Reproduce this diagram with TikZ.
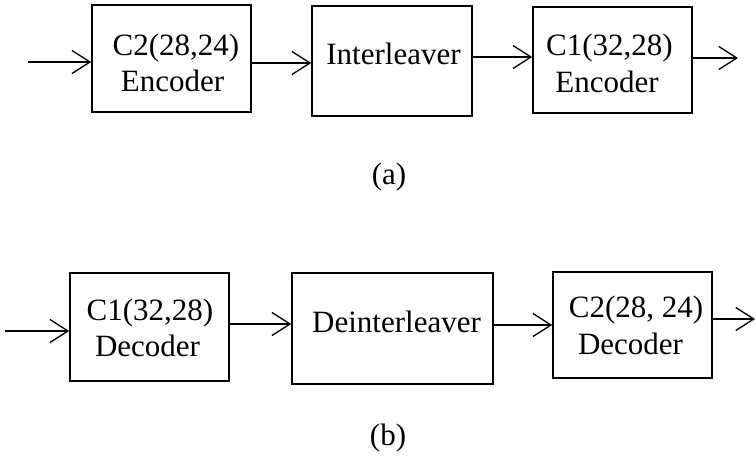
\documentclass[tikz,border=0pt]{standalone}
\usepackage{fontspec}
\setmainfont{Liberation Serif}
\usetikzlibrary{arrows.meta}
\begin{document}
\begin{tikzpicture}[x=1pt,y=-1pt,
  blk/.style={draw,line width=1.6pt,inner sep=0pt},
  lbl/.style={anchor=base,inner sep=0pt,font=\fontsize{31}{37}\selectfont},
  arr/.style={line width=1.3pt,-{Straight Barb[length=18pt,width=23pt,line width=1.3pt]}}]
\useasboundingbox (0,0) rectangle (756,457);
% row (a)
\node[blk,minimum width=159pt,minimum height=107pt] (A1) at (171.5,58.5) {};
\node[blk,minimum width=160pt,minimum height=110pt] (A2) at (392,61) {};
\node[blk,minimum width=159pt,minimum height=106pt] (A3) at (612.5,60) {};
\node[lbl] (A1a) at (176,56) {C2(28,24)};
\node[lbl] (A1b) at (172.5,92) {Encoder};
\node[lbl] (A2a) at (393.5,65) {Interleaver};
\node[lbl] (A3a) at (609.5,56) {C1(32,28)};
\node[lbl] (A3b) at (607,93) {Encoder};
\node[lbl] (la) at (389,185) {(a)};
\coordinate (inA) at (28,62);
\coordinate (outA) at (738,58);
\draw[arr] (inA) -- (A1.west |- inA);
\draw[arr] (A1.east |- 0,63) -- (A2.west |- 0,63);
\draw[arr] (A2.east |- 0,57) -- (A3.west |- 0,57);
\draw[arr] (A3.east |- outA) -- (outA);
% row (b)
\node[blk,minimum width=159pt,minimum height=108pt] (B1) at (149.5,327) {};
\node[blk,minimum width=201pt,minimum height=111pt] (B2) at (392.5,328.5) {};
\node[blk,minimum width=159pt,minimum height=106pt] (B3) at (632.5,325) {};
\node[lbl] (B1a) at (150,321) {C1(32,28)};
\node[lbl] (B1b) at (147.5,357) {Decoder};
\node[lbl] (B2a) at (396.5,333) {Deinterleaver};
\node[lbl] (B3a) at (636,318) {C2(28, 24)};
\node[lbl] (B3b) at (630.5,355) {Decoder};
\node[lbl] (lb) at (388,446) {(b)};
\coordinate (inB) at (5,331);
\coordinate (outB) at (755,319);
\draw[arr] (inB) -- (B1.west |- inB);
\draw[arr] (B1.east |- 0,324) -- (B2.west |- 0,324);
\draw[arr] (B2.east |- 0,325) -- (B3.west |- 0,325);
\draw[arr] (B3.east |- outB) -- (outB);
\end{tikzpicture}
\end{document}
